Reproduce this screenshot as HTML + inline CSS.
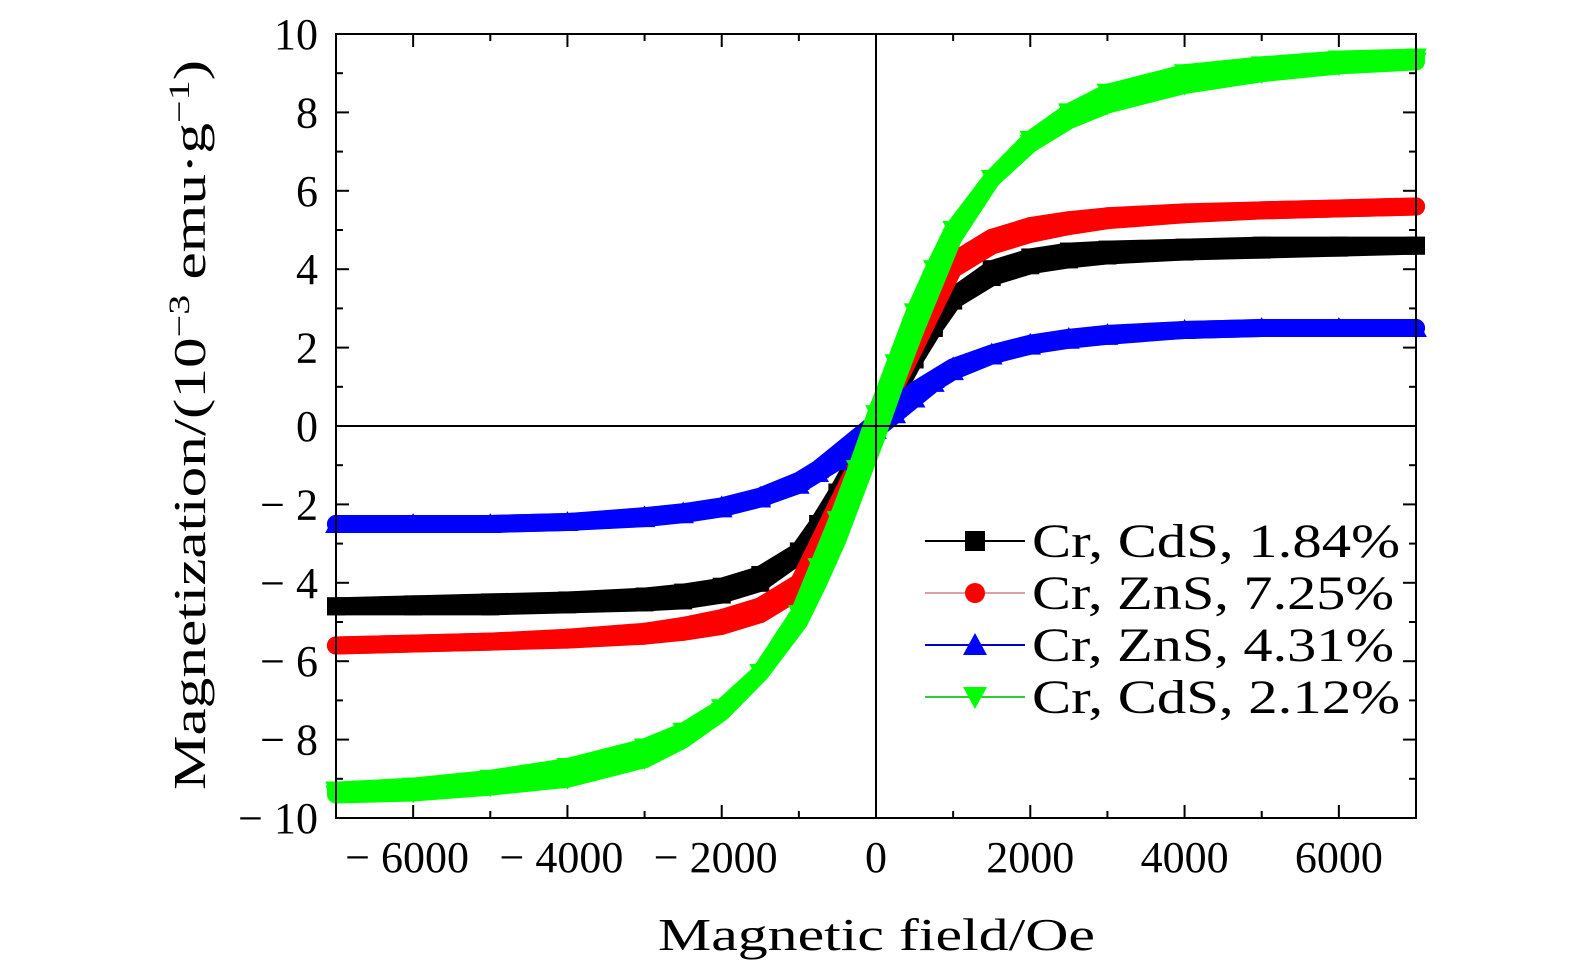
<!DOCTYPE html>
<html><head><meta charset="utf-8"><style>
body{margin:0;background:#fff}
svg{display:block}
text{font-family:"Liberation Serif","DejaVu Serif",serif;fill:#000}
</style></head><body>
<svg id="chart" width="1575" height="974" viewBox="0 0 1575 974" xmlns="http://www.w3.org/2000/svg">
<g id="series"></g>
<g id="axes"></g>
<g id="legend"></g>
<text x="658" y="950" font-size="46" textLength="437" lengthAdjust="spacingAndGlyphs">Magnetic field/Oe</text>
<text transform="translate(205,790) rotate(-90)" font-size="46" textLength="730" lengthAdjust="spacingAndGlyphs">Magnetization/(10<tspan dy="-16" font-size="30">−3</tspan><tspan dy="16"> emu·g</tspan><tspan dy="-16" font-size="30">−1</tspan><tspan dy="16">)</tspan></text>
</svg>
<script>
const fields=[-7000,-6000,-5000,-4000,-3000,-2500,-2000,-1500,-1000,-750,-500,-250,0,250,500,750,1000,1500,2000,2500,3000,4000,5000,6000,7000];
const magBlack=[-4.6,-4.55,-4.5,-4.45,-4.35,-4.25,-4.1,-3.8,-3.2,-2.5,-1.7,-0.9,-0.1,0.8,1.7,2.6,3.3,4.0,4.3,4.45,4.5,4.55,4.6,4.6,4.6];
const magRed=[-5.6,-5.55,-5.5,-5.4,-5.25,-5.1,-4.9,-4.6,-4.0,-3.0,-2.0,-1.0,0,1.0,2.1,3.1,4.2,4.8,5.1,5.25,5.35,5.45,5.5,5.55,5.6];
const magBlue=[-2.5,-2.5,-2.5,-2.45,-2.3,-2.2,-2.05,-1.8,-1.4,-1.1,-0.7,-0.3,0.1,0.5,0.9,1.2,1.5,1.85,2.1,2.25,2.35,2.45,2.5,2.5,2.5];
const magGreen=[-9.3,-9.2,-9.0,-8.7,-8.2,-7.8,-7.2,-6.3,-5.0,-4.0,-2.9,-1.6,-0.3,1.1,2.4,3.6,4.8,6.3,7.3,8.0,8.5,9.0,9.2,9.35,9.4];
const seriesNames=["Cr, CdS, 1.84%","Cr, ZnS, 7.25%","Cr, ZnS, 4.31%","Cr, CdS, 2.12%"];
const xTicks=[-6000,-4000,-2000,0,2000,4000,6000];
const yTicks=[-10,-8,-6,-4,-2,0,2,4,6,8,10];

const NS="http://www.w3.org/2000/svg";
const L=336,R=1416,T=34,B=818,xMin=-7000,xMax=7000,yMin=-10,yMax=10;
const sx=v=>L+(v-xMin)/(xMax-xMin)*(R-L);
const sy=v=>B-(v-yMin)/(yMax-yMin)*(B-T);
function mk(tag,attrs,parent){const e=document.createElementNS(NS,tag);for(const k in attrs)e.setAttribute(k,attrs[k]);parent.appendChild(e);return e;}
const fmt=v=>v<0?"−"+Math.abs(v):""+v;

function marker(g,type,x,y,color,s){
  let e;
  if(type==="square")e=mk("rect",{x:x-s,y:y-s,width:2*s,height:2*s,fill:color},g);
  else if(type==="circle")e=mk("circle",{cx:x,cy:y,r:s,fill:color},g);
  else if(type==="up")e=mk("polygon",{points:`${x},${y-s*1.2} ${x-s*1.2},${y+s} ${x+s*1.2},${y+s}`,fill:color},g);
  else e=mk("polygon",{points:`${x},${y+s*1.2} ${x-s*1.2},${y-s} ${x+s*1.2},${y-s}`,fill:color},g);
  return e;
}

const sg=document.getElementById('series');
const defs=[[magBlack,"#000","square","black"],[magRed,"#f00","circle","red"],[magBlue,"#00f","up","blue"],[magGreen,"#0f0","down","green"]];
defs.forEach(([m,c,t,n])=>{
  const g=mk("g",{},sg);
  
  
  const up=fields.map((h,i)=>[sx(h),sy(m[i])]);
  const down=fields.map((h,i)=>[sx(-h),sy(-m[i])]);
  [up,down].forEach(pts=>{
    const pl=mk("polyline",{points:pts.map(p=>p.join(",")).join(" "),fill:"none",stroke:c,"stroke-width":18,"stroke-linejoin":"round","stroke-linecap":"round"},g);
    
    
    pts.forEach(p=>{const e=marker(g,t,p[0],p[1],c,9);
      
      });
  });
});

const ag=document.getElementById('axes');
mk("rect",{x:L,y:T,width:R-L,height:B-T,fill:"none",stroke:"#000","stroke-width":2},ag);
mk("line",{x1:sx(0),x2:sx(0),y1:T,y2:B,stroke:"#000","stroke-width":2},ag);
mk("line",{x1:L,x2:R,y1:sy(0),y2:sy(0),stroke:"#000","stroke-width":2},ag);
for(let v=-7000;v<=7000;v+=1000){
  const x=sx(v),len=(v%2000===0)?13:7;
  mk("line",{x1:x,x2:x,y1:B,y2:B-len,stroke:"#000","stroke-width":2},ag);
  mk("line",{x1:x,x2:x,y1:T,y2:T+len,stroke:"#000","stroke-width":2},ag);
}
for(let v=-10;v<=10;v+=1){
  const y=sy(v),len=(v%2===0)?13:7;
  mk("line",{x1:L,x2:L+len,y1:y,y2:y,stroke:"#000","stroke-width":2},ag);
  mk("line",{x1:R,x2:R-len,y1:y,y2:y,stroke:"#000","stroke-width":2},ag);
}
xTicks.forEach(v=>{const t=mk("text",{x:sx(v)-(v<0?6:0),y:872,"font-size":44,"text-anchor":"middle"},ag);t.textContent=fmt(v).replace("−","− ");
  
  });
yTicks.forEach(v=>{const t=mk("text",{x:318,y:sy(v)+15,"font-size":44,"text-anchor":"end"},ag);t.textContent=fmt(v).replace("−","− ");
  
  });

const lg=document.getElementById('legend');
const lc=["#000","#f00","#00f","#0f0"],lt=["square","circle","up","down"],lline=["#000","#d8a0a8","#00c","#3c3"];
const lw=[368,362,362,368];
seriesNames.forEach((s,i)=>{
  const y=541+i*52;
  const g=mk("g",{},lg);
  
  
  mk("line",{x1:925,x2:1025,y1:y,y2:y,stroke:lline[i],"stroke-width":2},g);
  marker(g,lt[i],975,y,lc[i],10);
  const t=mk("text",{x:1032,y:y+16,"font-size":48,textLength:lw[i],lengthAdjust:"spacingAndGlyphs"},g);t.textContent=s;
});
</script>
</body></html>
